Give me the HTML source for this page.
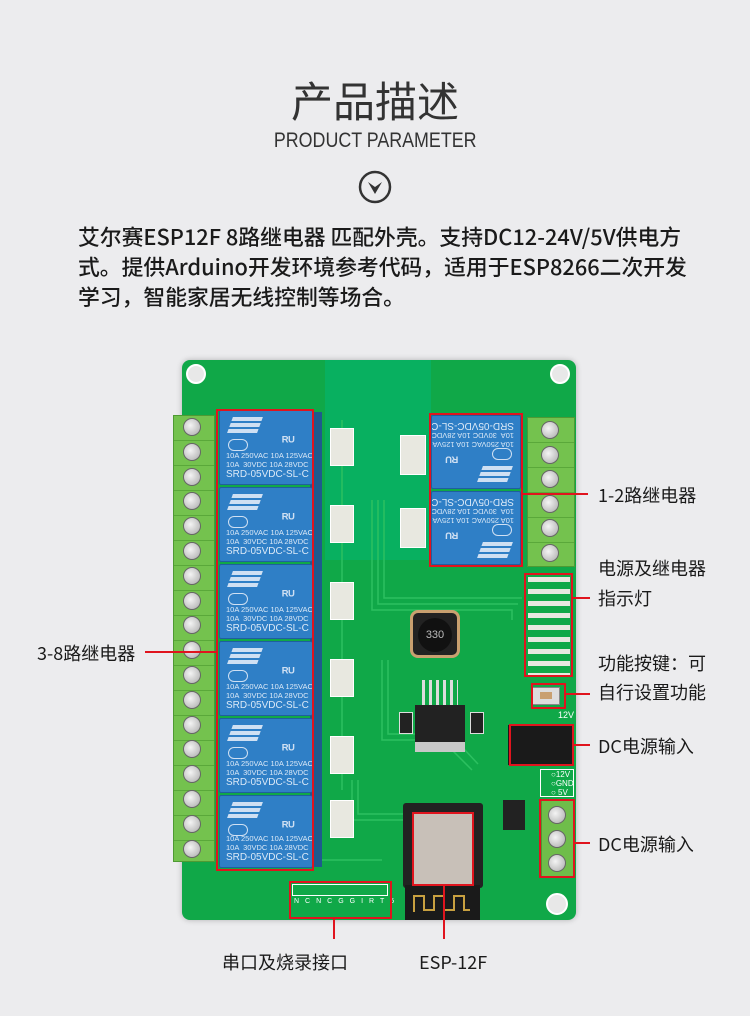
<!DOCTYPE html>
<html><head><meta charset="utf-8"><style>
*{margin:0;padding:0;box-sizing:border-box}
body{width:750px;height:1016px;background:#ececee;position:relative;overflow:hidden;font-family:"Liberation Sans","Noto Sans CJK SC",sans-serif;color:#222}
.a{position:absolute}
.t{font-family:"Noto Sans CJK SC",sans-serif;white-space:nowrap}
.rel{position:absolute;background:#2f7fc6;border:1px solid #1f5f9e;border-radius:2px;color:#dbe9f7;font-size:7px;line-height:8px;overflow:hidden;white-space:nowrap}
.rel .s{position:absolute;left:10px;top:6px;width:30px;height:16px;background:repeating-linear-gradient(180deg,#cfe0f3 0 4px,transparent 4px 6px);transform:skewX(-20deg)}
.rel .lg{position:absolute;left:8px;top:28px;width:20px;height:12px;border:1.5px solid #cfe0f3;border-radius:6px}
.rel .ul{position:absolute;left:62px;top:26px;font-size:14px;font-weight:bold;color:#cfe0f3}
.rel .b{position:absolute;left:6px;bottom:4px;font-size:7.5px;line-height:9px}
.rel .b2{font-size:10px;line-height:11px}
.sh{position:absolute;background:#1e5a8e}
.term{position:absolute;background:#6fbd4a;border:1px solid #4e9a33}
.screw{position:absolute;width:18px;height:18px;border-radius:50%;background:radial-gradient(circle at 40% 40%,#f4f4f4,#aaa);border:1px solid #666}
.red{position:absolute;border:2px solid #e0141e}
.rl{position:absolute;background:#e0141e}
.lab{position:absolute;font-size:18px;font-family:"Noto Sans CJK SC",sans-serif;white-space:nowrap;color:#1a1a1a}
.smd{position:absolute;background:#e8e8e0;border:1px solid #fff}
</style></head><body>
<div class="a t" style="left:0;width:750px;top:72px;text-align:center;font-size:42px;color:#333;line-height:56px">产品描述</div>
<div class="a" style="left:0;width:750px;top:128px;text-align:center;font-size:21px;color:#333;line-height:26px"><span style="display:inline-block;transform:scaleX(0.85)">PRODUCT PARAMETER</span></div>
<svg class="a" style="left:358px;top:170px" width="34" height="34"><circle cx="17" cy="17" r="15" fill="none" stroke="#333" stroke-width="2.5"/><path d="M10 12 L17 24 L24 12 L17 17 Z" fill="#333"/></svg>
<div class="a t" style="left:78px;top:222px;font-size:21.8px;line-height:30px;color:#1a1a1a;font-weight:500">
<div>艾尔赛ESP12F 8路继电器 匹配外壳。支持DC12-24V/5V供电方</div>
<div>式。提供Arduino开发环境参考代码，适用于ESP8266二次开发</div>
<div>学习，智能家居无线控制等场合。</div></div>

<!-- board -->
<div class="a" style="left:182px;top:360px;width:394px;height:560px;background:#10a848;border-radius:8px;box-shadow:0 0 6px rgba(0,0,0,.25)"></div>
<div class="a" style="left:325px;top:360px;width:106px;height:200px;background:#08b060"></div>
<div class="a" style="left:186px;top:364px;width:20px;height:20px;border-radius:50%;border:2px solid #fff;background:#e8e8e8"></div>
<div class="a" style="left:550px;top:364px;width:20px;height:20px;border-radius:50%;border:2px solid #fff;background:#e8e8e8"></div>
<div class="a" style="left:546px;top:893px;width:22px;height:22px;border-radius:50%;border:2px solid #fff;background:#e8e8e8"></div>
<svg class="a" style="left:182px;top:360px" width="394" height="560"><g fill="none" stroke="#2cc060" stroke-width="1.5">
<path d="M190 140 V250 H330 V260"/><path d="M196 140 V244 H336"/><path d="M202 140 V238 H340"/>
<path d="M200 300 V380 H260 L290 410"/><path d="M206 300 V374 H268 L296 404"/>
<path d="M170 420 V460 H230 L260 490"/><path d="M176 420 V454 H236"/>
<path d="M130 60 V500 H200"/><path d="M160 60 V430"/></g></svg>

<div class="term" style="left:173px;top:415px;width:42px;height:447px;background:repeating-linear-gradient(180deg,#74c24e 0 24px,#5aa83a 24px 25px)"></div>
<div class="sh" style="left:310px;top:412px;width:12px;height:455px"></div>
<div class="rel" style="left:219px;top:410px;width:94px;height:75px"><div class="s"></div><div class="lg"></div><div class="ul">ᴿᵁ</div><div class="b">10A 250VAC 10A 125VAC<br>10A &nbsp;30VDC 10A 28VDC<br><span class="b2">SRD-05VDC-SL-C</span></div></div>
<div class="rel" style="left:219px;top:487px;width:94px;height:75px"><div class="s"></div><div class="lg"></div><div class="ul">ᴿᵁ</div><div class="b">10A 250VAC 10A 125VAC<br>10A &nbsp;30VDC 10A 28VDC<br><span class="b2">SRD-05VDC-SL-C</span></div></div>
<div class="rel" style="left:219px;top:564px;width:94px;height:75px"><div class="s"></div><div class="lg"></div><div class="ul">ᴿᵁ</div><div class="b">10A 250VAC 10A 125VAC<br>10A &nbsp;30VDC 10A 28VDC<br><span class="b2">SRD-05VDC-SL-C</span></div></div>
<div class="rel" style="left:219px;top:641px;width:94px;height:75px"><div class="s"></div><div class="lg"></div><div class="ul">ᴿᵁ</div><div class="b">10A 250VAC 10A 125VAC<br>10A &nbsp;30VDC 10A 28VDC<br><span class="b2">SRD-05VDC-SL-C</span></div></div>
<div class="rel" style="left:219px;top:718px;width:94px;height:75px"><div class="s"></div><div class="lg"></div><div class="ul">ᴿᵁ</div><div class="b">10A 250VAC 10A 125VAC<br>10A &nbsp;30VDC 10A 28VDC<br><span class="b2">SRD-05VDC-SL-C</span></div></div>
<div class="rel" style="left:219px;top:795px;width:94px;height:73px"><div class="s"></div><div class="lg"></div><div class="ul">ᴿᵁ</div><div class="b">10A 250VAC 10A 125VAC<br>10A &nbsp;30VDC 10A 28VDC<br><span class="b2">SRD-05VDC-SL-C</span></div></div>
<div class="smd" style="left:330px;top:428px;width:24px;height:38px"></div>
<div class="smd" style="left:330px;top:505px;width:24px;height:38px"></div>
<div class="smd" style="left:330px;top:582px;width:24px;height:38px"></div>
<div class="smd" style="left:330px;top:659px;width:24px;height:38px"></div>
<div class="smd" style="left:330px;top:736px;width:24px;height:38px"></div>
<div class="smd" style="left:330px;top:800px;width:24px;height:38px"></div>
<div class="smd" style="left:400px;top:435px;width:26px;height:40px"></div>
<div class="smd" style="left:400px;top:508px;width:26px;height:40px"></div>
<div class="rel" style="left:431px;top:415px;width:90px;height:74px;transform:rotate(180deg)"><div class="s"></div><div class="lg"></div><div class="ul">ᴿᵁ</div><div class="b">10A 250VAC 10A 125VAC<br>10A &nbsp;30VDC 10A 28VDC<br><span class="b2">SRD-05VDC-SL-C</span></div></div>
<div class="rel" style="left:431px;top:491px;width:90px;height:74px;transform:rotate(180deg)"><div class="s"></div><div class="lg"></div><div class="ul">ᴿᵁ</div><div class="b">10A 250VAC 10A 125VAC<br>10A &nbsp;30VDC 10A 28VDC<br><span class="b2">SRD-05VDC-SL-C</span></div></div>
<div class="term" style="left:527px;top:417px;width:48px;height:150px;background:repeating-linear-gradient(180deg,#74c24e 0 24px,#5aa83a 24px 25px)"></div>
<div class="a" style="left:410px;top:610px;width:50px;height:48px;background:#222;border-radius:8px;border:3px solid #c9a070"></div>
<div class="a" style="left:418px;top:618px;width:34px;height:34px;border-radius:50%;background:#111;color:#bbb;font-size:11px;text-align:center;line-height:34px">330</div>
<div class="a" style="left:415px;top:705px;width:50px;height:38px;background:#222"></div>
<div class="a" style="left:415px;top:742px;width:50px;height:10px;background:#c8c8c8"></div>
<div class="a" style="left:422px;top:680px;width:36px;height:25px;background:repeating-linear-gradient(90deg,#ddd 0 3px,transparent 3px 7px)"></div>
<div class="a" style="left:399px;top:712px;width:14px;height:22px;background:#222;border:1px solid #ddd"></div>
<div class="a" style="left:470px;top:712px;width:14px;height:22px;background:#222;border:1px solid #ddd"></div>
<div class="a" style="left:528px;top:577px;width:42px;height:98px;background:repeating-linear-gradient(180deg,#e8e8e0 0 5px,transparent 5px 12px)"></div>
<div class="a" style="left:532px;top:687px;width:28px;height:18px;background:#ddd;border:1px solid #888"></div>
<div class="a" style="left:540px;top:692px;width:12px;height:7px;background:#c9a070"></div>
<div class="a" style="left:558px;top:710px;font-size:9px;color:#fff">12V</div>
<div class="a" style="left:508px;top:725px;width:64px;height:40px;background:#1a1a1a"></div>
<div class="a" style="left:540px;top:769px;width:34px;height:28px;border:1px solid #fff;color:#fff;font-size:8px;line-height:9px;padding-left:10px">○12V<br>○GND<br>○ 5V</div>
<div class="term" style="left:541px;top:800px;width:33px;height:77px"></div>
<div class="a" style="left:403px;top:803px;width:80px;height:85px;background:#222;border-radius:3px"></div>
<div class="a" style="left:413px;top:813px;width:60px;height:72px;background:#c8c0b8"></div>
<div class="a" style="left:405px;top:885px;width:75px;height:35px;background:#1a1a1a"></div>
<svg class="a" style="left:410px;top:890px" width="64" height="26"><path d="M4 22 V6 H14 V20 H24 V6 H34 V20 H44 V6 H54 V20 H60" fill="none" stroke="#c8a040" stroke-width="2"/></svg>
<div class="a" style="left:292px;top:884px;width:96px;height:12px;border:1px solid #fff"></div>
<div class="a" style="left:294px;top:898px;font-size:7px;color:#fff;letter-spacing:6px">NCNCGGIRT5</div>
<div class="a" style="left:503px;top:800px;width:22px;height:30px;background:#222"></div>

<div id="ls"></div>

<div class="red" style="left:216px;top:409px;width:98px;height:462px"></div>
<div class="red" style="left:429px;top:413px;width:94px;height:154px"></div>
<div class="red" style="left:524px;top:573px;width:49px;height:104px"></div>
<div class="red" style="left:531px;top:683px;width:35px;height:26px"></div>
<div class="red" style="left:509px;top:724px;width:65px;height:42px"></div>
<div class="red" style="left:539px;top:799px;width:36px;height:79px"></div>
<div class="red" style="left:412px;top:812px;width:62px;height:74px"></div>
<div class="red" style="left:289px;top:881px;width:103px;height:38px"></div>
<div class="rl" style="left:145px;top:651px;width:72px;height:1.5px"></div>
<div class="rl" style="left:523px;top:493px;width:65px;height:1.5px"></div>
<div class="rl" style="left:573px;top:597px;width:17px;height:1.5px"></div>
<div class="rl" style="left:566px;top:693px;width:24px;height:1.5px"></div>
<div class="rl" style="left:574px;top:744px;width:16px;height:1.5px"></div>
<div class="rl" style="left:575px;top:842px;width:15px;height:1.5px"></div>
<div class="rl" style="left:333px;top:919px;width:1.5px;height:20px"></div>
<div class="rl" style="left:443px;top:886px;width:1.5px;height:53px"></div>
<div class="lab" style="left:37px;top:640px">3-8路继电器</div>
<div class="lab" style="left:598px;top:482px">1-2路继电器</div>
<div class="lab" style="left:598px;top:555px">电源及继电器</div>
<div class="lab" style="left:598px;top:585px">指示灯</div>
<div class="lab" style="left:598px;top:650px">功能按键：可</div>
<div class="lab" style="left:598px;top:679px">自行设置功能</div>
<div class="lab" style="left:598px;top:733px">DC电源输入</div>
<div class="lab" style="left:598px;top:831px">DC电源输入</div>
<div class="lab" style="left:222px;top:949px">串口及烧录接口</div>
<div class="lab" style="left:419px;top:949px">ESP-12F</div>
<script>
var h='';for(var i=0;i<18;i++)h+='<div class="screw" style="left:183px;top:'+(418+i*24.8)+'px"></div>';
for(var j=0;j<6;j++)h+='<div class="screw" style="left:541px;top:'+(421+j*24.5)+'px"></div>';
for(var k=0;k<3;k++)h+='<div class="screw" style="left:548px;top:'+(806+k*24)+'px"></div>';
document.getElementById('ls').outerHTML=h;
</script>
</body></html>
